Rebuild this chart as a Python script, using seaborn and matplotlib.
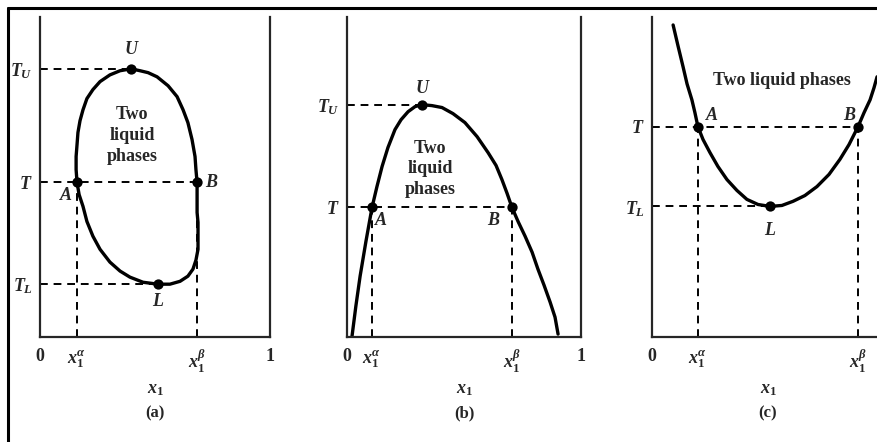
import numpy as np
import matplotlib
matplotlib.use("Agg")
import matplotlib.pyplot as plt
from matplotlib.lines import Line2D
import seaborn as sns

# --- Liquid/liquid solubility diagrams: (a) closed loop, (b) UCST, (c) LCST ---

# (a) closed solubility loop, traced from U round the left side and back
loop_x = [0.396, 0.348, 0.304, 0.261, 0.230, 0.204, 0.187, 0.174, 0.165, 0.161,
          0.157, 0.157, 0.161, 0.170, 0.187, 0.204, 0.230, 0.261, 0.304, 0.348,
          0.391, 0.448, 0.513, 0.565, 0.609, 0.643, 0.665, 0.678, 0.687, 0.687,
          0.687, 0.683, 0.683, 0.683, 0.678, 0.674, 0.661, 0.643, 0.622, 0.596,
          0.557, 0.509, 0.470, 0.435, 0.396]
loop_t = [0.838, 0.832, 0.819, 0.798, 0.773, 0.745, 0.710, 0.676, 0.639, 0.601,
          0.564, 0.523, 0.483, 0.445, 0.408, 0.361, 0.315, 0.274, 0.234, 0.206,
          0.187, 0.171, 0.165, 0.165, 0.174, 0.190, 0.212, 0.240, 0.274, 0.315,
          0.358, 0.389, 0.421, 0.483, 0.523, 0.564, 0.617, 0.670, 0.710, 0.751,
          0.785, 0.813, 0.826, 0.832, 0.838]
a_TU, a_T, a_TL = 0.838, 0.483, 0.165
a_U, a_A, a_B, a_L = 0.396, 0.161, 0.683, 0.513

# (b) upper consolute curve
ucst_x = [0.021, 0.038, 0.056, 0.081, 0.107, 0.128, 0.150, 0.175, 0.205, 0.231,
          0.261, 0.291, 0.321, 0.363, 0.406, 0.453, 0.504, 0.556, 0.603, 0.637,
          0.662, 0.684, 0.705, 0.731, 0.761, 0.791, 0.816, 0.842, 0.868, 0.889,
          0.902]
ucst_t = [0.000, 0.097, 0.190, 0.299, 0.405, 0.470, 0.533, 0.592, 0.648, 0.679,
          0.704, 0.720, 0.726, 0.723, 0.717, 0.698, 0.670, 0.626, 0.576, 0.536,
          0.492, 0.449, 0.405, 0.361, 0.315, 0.265, 0.212, 0.162, 0.109, 0.062,
          0.009]
b_TU, b_T = 0.726, 0.405
b_U, b_A, b_B = 0.321, 0.107, 0.705

# (c) lower consolute curve
lcst_x = [0.091, 0.112, 0.134, 0.151, 0.172, 0.185, 0.198, 0.220, 0.250, 0.284,
          0.323, 0.366, 0.409, 0.457, 0.509, 0.560, 0.608, 0.659, 0.711, 0.763,
          0.810, 0.849, 0.888, 0.914, 0.940, 0.957, 0.970]
lcst_t = [0.975, 0.910, 0.844, 0.791, 0.741, 0.701, 0.657, 0.617, 0.576, 0.533,
          0.492, 0.458, 0.430, 0.414, 0.408, 0.411, 0.424, 0.442, 0.470, 0.508,
          0.555, 0.601, 0.657, 0.701, 0.741, 0.779, 0.813]
c_T, c_TL = 0.657, 0.408
c_A, c_B, c_L = 0.198, 0.888, 0.509

sns.set_style("ticks")
plt.rcParams["font.family"] = ["Liberation Serif", "DejaVu Serif"]
plt.rcParams["font.weight"] = "bold"
plt.rcParams["mathtext.fontset"] = "custom"
plt.rcParams["mathtext.it"] = "Liberation Serif:italic:bold"
plt.rcParams["mathtext.rm"] = "Liberation Serif:bold"
plt.rcParams["mathtext.bf"] = "Liberation Serif:bold"

fig = plt.figure(figsize=(8.77, 4.42), dpi=100)
ax_a = fig.add_axes([40 / 877, 0.2376, 230 / 877, 0.724])
ax_b = fig.add_axes([347 / 877, 0.2376, 234 / 877, 0.724])
ax_c = fig.add_axes([652 / 877, 0.2376, 232 / 877, 0.724])

DASH = (0, (4, 3))
FS = 13


def hline(ax, y, x_end):
    ax.plot([0, x_end], [y, y], color="black", lw=1.4, ls=DASH)


def vline(ax, x, y_end):
    ax.plot([x, x], [0, y_end], color="black", lw=1.4, ls=DASH)


def dots(ax, xs, ys):
    sns.scatterplot(x=xs, y=ys, ax=ax, color="black", s=55, zorder=5,
                    edgecolor="black", linewidth=0)


def style(ax, yt, ylab, xt, xlab, caption):
    ax.set_xlim(0, 1)
    ax.set_ylim(0, 1)
    ax.spines["top"].set_visible(False)
    for s in ["left", "right", "bottom"]:
        ax.spines[s].set_linewidth(1.6)
    ax.set_yticks(yt)
    ax.set_yticklabels(ylab, fontsize=FS)
    ax.set_xticks(xt)
    ax.set_xticklabels(xlab, fontsize=FS)
    ax.tick_params(length=0, pad=5)
    ax.tick_params(axis="x", pad=8)
    ax.set_xlabel(r"$x_1$", fontsize=FS, labelpad=4)
    ax.text(0.5, -0.24, caption, transform=ax.transAxes, ha="center",
            va="center", fontsize=12)


lab = dict(fontsize=FS, style="italic", fontweight="bold")
two = dict(fontsize=13, ha="center", va="center", linespacing=1.3)
xticks_lab = ["0", r"$x_1^\alpha$", r"$x_1^\beta$", "1"]

# ---- (a)
ax = ax_a
sns.lineplot(x=loop_x, y=loop_t, ax=ax, sort=False, estimator=None,
             color="black", lw=2.4)
hline(ax, a_TU, a_U)
hline(ax, a_T, a_B)
hline(ax, a_TL, a_L)
vline(ax, a_A, a_T)
vline(ax, a_B, a_T)
dots(ax, [a_U, a_A, a_B, a_L], [a_TU, a_T, a_T, a_TL])
ax.text(a_U, a_TU + 0.06, "U", ha="center", va="center", **lab)
ax.text(a_A - 0.05, a_T - 0.04, "A", ha="center", va="center", **lab)
ax.text(a_B + 0.06, a_T, "B", ha="center", va="center", **lab)
ax.text(a_L, a_TL - 0.055, "L", ha="center", va="center", **lab)
ax.text(0.40, 0.63, "Two\nliquid\nphases", **two)
style(ax, [a_TL, a_T, a_TU], [r"$T_L$", r"$T$", r"$T_U$"],
      [0, a_A, a_B, 1], xticks_lab, "(a)")

# ---- (b)
ax = ax_b
sns.lineplot(x=ucst_x, y=ucst_t, ax=ax, sort=False, estimator=None,
             color="black", lw=2.4)
hline(ax, b_TU, b_U)
hline(ax, b_T, b_B)
vline(ax, b_A, b_T)
vline(ax, b_B, b_T)
dots(ax, [b_U, b_A, b_B], [b_TU, b_T, b_T])
ax.text(b_U, b_TU + 0.05, "U", ha="center", va="center", **lab)
ax.text(b_A + 0.04, b_T - 0.04, "A", ha="center", va="center", **lab)
ax.text(b_B - 0.08, b_T - 0.04, "B", ha="center", va="center", **lab)
ax.text(0.355, 0.525, "Two\nliquid\nphases", **two)
style(ax, [b_T, b_TU], [r"$T$", r"$T_U$"],
      [0, b_A, b_B, 1], xticks_lab, "(b)")

# ---- (c)  (x1 = 1 lies past the right edge of the page)
ax = ax_c
sns.lineplot(x=lcst_x, y=lcst_t, ax=ax, sort=False, estimator=None,
             color="black", lw=2.4)
hline(ax, c_T, c_B)
hline(ax, c_TL, c_L)
vline(ax, c_A, c_T)
vline(ax, c_B, c_T)
dots(ax, [c_A, c_B, c_L], [c_T, c_T, c_TL])
ax.text(c_A + 0.06, c_T + 0.035, "A", ha="center", va="center", **lab)
ax.text(c_B - 0.04, c_T + 0.035, "B", ha="center", va="center", **lab)
ax.text(c_L, c_TL - 0.075, "L", ha="center", va="center", **lab)
ax.text(0.56, 0.80, "Two liquid phases", **two)
style(ax, [c_TL, c_T], [r"$T_L$", r"$T$"],
      [0, c_A, c_B], xticks_lab[:3], "(c)")

# page frame of the scanned figure
fig.add_artist(Line2D([0.009, 1.0], [0.982, 0.982], transform=fig.transFigure,
                      color="black", lw=2.2))
fig.add_artist(Line2D([0.009, 0.009], [0.0, 0.982], transform=fig.transFigure,
                      color="black", lw=2.2))

fig.savefig("out.png", dpi=100)
